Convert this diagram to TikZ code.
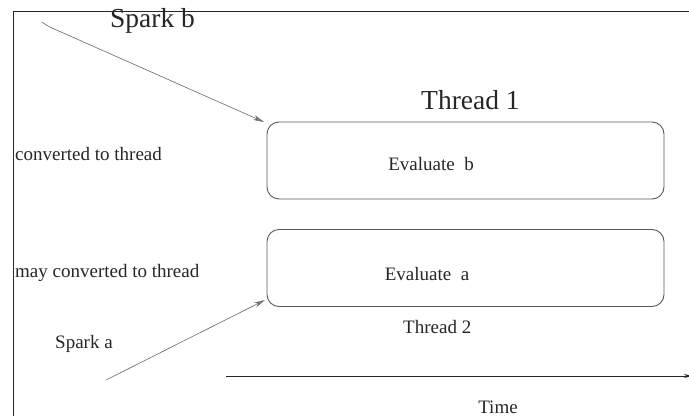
\documentclass[tikz,border=0pt]{standalone}
\usepackage{fontspec}
\setmainfont{Liberation Serif}
\usetikzlibrary{arrows.meta}
\begin{document}
\begin{tikzpicture}[x=1pt,y=-1pt,
  lbl/.style={inner sep=0pt,font=\fontsize{19}{22}\selectfont,text=black!85},
  biglbl/.style={inner sep=0pt,font=\fontsize{27.5}{31}\selectfont,text=black!85},
  threadbox/.style={draw=black!65,line width=0.9pt,rounded corners=12pt,minimum width=397pt,minimum height=77pt,inner sep=0pt},
  spark/.style={draw=black!60,line width=0.6pt,-{Stealth[length=11pt,width=5pt,fill=black!45]}},
  frameline/.style={draw=black!85,line width=0.9pt}]
\useasboundingbox (0,0) rectangle (689,416);
% frame
\draw[frameline] (689,11) -- (13,11) -- (13,416);
% boxes
\node[threadbox] (tb) at (465.5,160.5) {};
\node[threadbox] (ta) at (465.5,268) {};
\node[lbl,anchor=base] (evb) at (431,170) {Evaluate\ \ b};
\node[lbl,anchor=base] (eva) at (427,280) {Evaluate\ \ a};
% labels
\node[biglbl,anchor=base west] (spb) at (110,27) {Spark b};
\node[biglbl,anchor=base west] (th1) at (421,109) {Thread 1};
\node[lbl,anchor=base west] (conv) at (15,160) {converted to thread};
\node[lbl,anchor=base west] (mconv) at (15,277) {may converted to thread};
\node[lbl,anchor=base west] (spa) at (55,348) {Spark a};
\node[lbl,anchor=base west] (th2) at (403,333) {Thread 2};
\node[lbl,anchor=base] (time) at (498,413) {Time};
% arrows
\coordinate (sb0) at (42,22);
\coordinate (sb1) at (264,122);
\coordinate (sa0) at (106,380);
\coordinate (sa1) at (265,300);
\draw[spark] (sb0) .. controls (46,25) .. (52,28) -- (sb1);
\draw[spark] (sa0) -- (sa1);
% time axis
\coordinate (t0) at (226,376);
\coordinate (t1) at (692,376);
\draw[draw=black!85,line width=0.9pt,-{Stealth[length=8pt,width=4pt]}] (t0) -- (t1);
\end{tikzpicture}
\end{document}
